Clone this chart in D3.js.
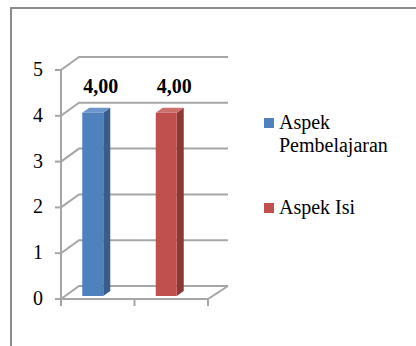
<!DOCTYPE html>
<html>
<head>
<meta charset="utf-8">
<script src="https://cdn.jsdelivr.net/npm/d3@7"></script>
</head>
<body style="margin:0">
<svg id="chart" width="416" height="346"></svg>
<script>
// Data
const categories = ["Aspek Pembelajaran", "Aspek Isi"];
const values = [4.00, 4.00];
const valueLabels = ["4,00", "4,00"];
const yTicks = [0, 1, 2, 3, 4, 5];
const legendLines = [["Aspek", "Pembelajaran"], ["Aspek Isi"]];
const colors = [
  { front: "#4f81bd", side: "#385d8a", top: "#6b95cb" },
  { front: "#c0504d", side: "#8c3836", top: "#cd6f6c" }
];

const FONT = '"Liberation Serif", monospace';

const svg = d3.select("#chart");
const W = 416, H = 346;

// Outer frame (top and left edges visible)
svg.append("path")
  .attr("d", `M11,${H} L11,8 L${W},8`)
  .attr("fill", "none")
  .attr("stroke", "#8c8c8c")
  .attr("stroke-width", 2);

// Plot geometry (front plane + depth offset for the 3D walls)
const x0 = 61, x1 = 208;
const depth = { dx: 18, dy: -13 };
const y = d3.scaleLinear().domain([0, 5]).range([299, 70]);
const x = d3.scaleBand().domain(categories).range([x0, x1]);

const grid = svg.append("g")
  .attr("fill", "none")
  .attr("stroke", "#a6a6a6")
  .attr("stroke-width", 2);

// Back wall gridlines with their diagonal side joins
yTicks.forEach(t => {
  const yf = y(t);
  grid.append("path")
    .attr("d", `M${x0},${yf} L${x0 + depth.dx},${yf + depth.dy} L${x1 + depth.dx + 2},${yf + depth.dy}`);
});

// Floor front edge and right edge
grid.append("path")
  .attr("d", `M${x0},${y(0)} L${x1},${y(0)} L${x1 + depth.dx + 2},${y(0) + depth.dy}`);

// Vertical value axis
grid.append("line")
  .attr("x1", x0).attr("x2", x0)
  .attr("y1", y(5)).attr("y2", y(0));

// Value axis ticks
yTicks.forEach(t => {
  grid.append("line")
    .attr("x1", x0 - 6).attr("x2", x0)
    .attr("y1", y(t)).attr("y2", y(t));
});

// Category axis ticks at band edges
const edges = [x0].concat(categories.map(c => x(c) + x.bandwidth()));
edges.forEach(e => {
  grid.append("line")
    .attr("x1", e).attr("x2", e)
    .attr("y1", y(0)).attr("y2", y(0) + 7);
});

// Value axis labels
svg.append("g").selectAll("text")
  .data(yTicks)
  .join("text")
  .attr("x", 43)
  .attr("y", d => y(d) + 6)
  .attr("text-anchor", "end")
  .attr("font-size", 20)
  .style("font-family", FONT)
  .text(d => d);

// 3D bars
const barW = 21;
const fOff = { dy: -3 };          // front face set back from the front plane
const bDepth = { dx: 7, dy: -5 }; // bar depth
const bars = svg.append("g");
categories.forEach((c, i) => {
  const cx = x(c) + x.bandwidth() / 2 - 5;
  const left = cx - barW / 2;
  const right = left + barW;
  const top = y(values[i]) + fOff.dy;
  const bottom = y(0) + fOff.dy;
  const col = colors[i];
  // side face
  bars.append("path")
    .attr("d", `M${right},${top} L${right + bDepth.dx},${top + bDepth.dy} L${right + bDepth.dx},${bottom + bDepth.dy} L${right},${bottom} Z`)
    .attr("fill", col.side);
  // top face
  bars.append("path")
    .attr("d", `M${left},${top} L${left + bDepth.dx},${top + bDepth.dy} L${right + bDepth.dx},${top + bDepth.dy} L${right},${top} Z`)
    .attr("fill", col.top);
  // front face
  bars.append("rect")
    .attr("x", left).attr("y", top)
    .attr("width", barW).attr("height", bottom - top)
    .attr("fill", col.front);
  // value label
  svg.append("text")
    .attr("x", cx + 8)
    .attr("y", y(values[i]) - 23)
    .attr("text-anchor", "middle")
    .attr("font-size", 20)
    .attr("font-weight", "bold")
    .style("font-family", FONT)
    .text(valueLabels[i]);
});

// Legend
const legendY = [129, 214];
const legend = svg.append("g");
legendLines.forEach((lines, i) => {
  legend.append("rect")
    .attr("x", 264).attr("y", legendY[i] - 11)
    .attr("width", 10).attr("height", 10)
    .attr("fill", colors[i].front);
  const t = legend.append("text")
    .attr("x", 279).attr("y", legendY[i])
    .attr("font-size", 20)
    .style("font-family", FONT);
  lines.forEach((ln, j) => {
    t.append("tspan")
      .attr("x", 279)
      .attr("dy", j === 0 ? 0 : 23)
      .text(ln);
  });
});
</script>
</body>
</html>
